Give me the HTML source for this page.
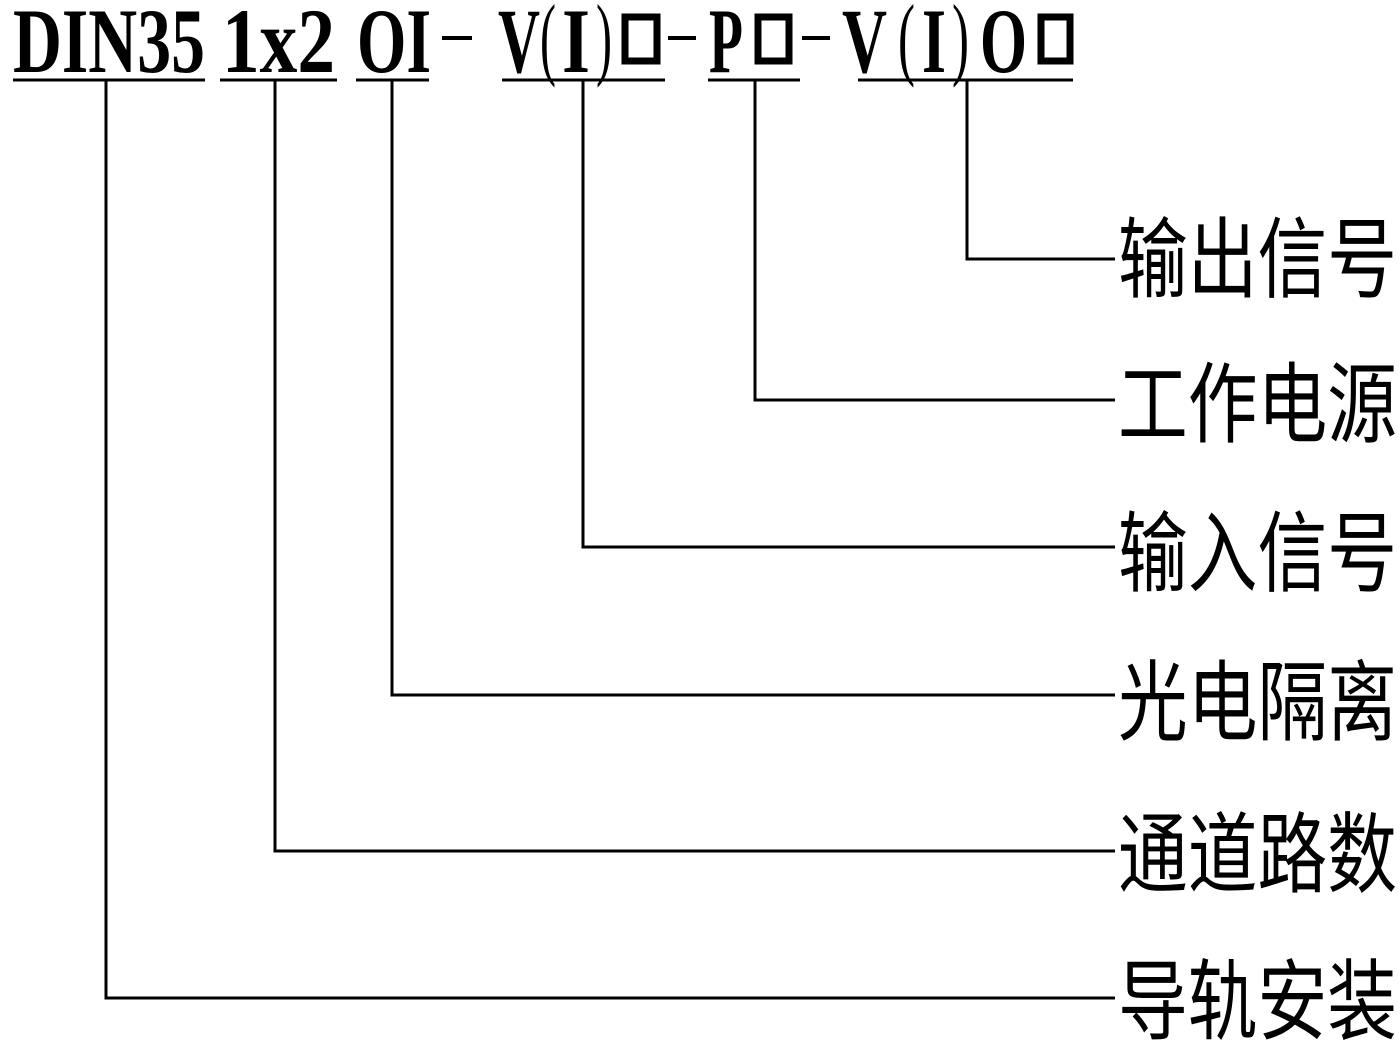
<!DOCTYPE html>
<html><head><meta charset="utf-8"><style>html,body{margin:0;padding:0;background:#fff}svg{display:block}</style></head>
<body>
<svg width="1399" height="1042" viewBox="0 0 1399 1042" xmlns="http://www.w3.org/2000/svg">
<g font-family="Liberation Serif, serif" font-weight="bold" font-size="92" fill="#000">
<text x="13" y="72" textLength="192" lengthAdjust="spacingAndGlyphs">DIN35</text>
<text x="222" y="72" textLength="113" lengthAdjust="spacingAndGlyphs">1x2</text>
<text x="357" y="72" textLength="74" lengthAdjust="spacingAndGlyphs">OI</text>
<text x="498" y="72" textLength="42" lengthAdjust="spacingAndGlyphs">V</text>
<text x="562" y="72" textLength="28" lengthAdjust="spacingAndGlyphs">I</text>
<text x="709" y="72" textLength="34" lengthAdjust="spacingAndGlyphs">P</text>
<text x="842" y="72" textLength="45" lengthAdjust="spacingAndGlyphs">V</text>
<text x="922" y="72" textLength="24" lengthAdjust="spacingAndGlyphs">I</text>
<text x="980" y="72" textLength="47" lengthAdjust="spacingAndGlyphs">O</text>
</g>
<g font-family="Liberation Serif, serif" font-size="92" fill="#000">
<text x="540" y="68" textLength="16" lengthAdjust="spacingAndGlyphs">(</text>
<text x="596" y="68" textLength="16" lengthAdjust="spacingAndGlyphs">)</text>
<text x="898" y="68" textLength="17" lengthAdjust="spacingAndGlyphs">(</text>
<text x="952" y="68" textLength="17" lengthAdjust="spacingAndGlyphs">)</text>
</g>
<g fill="none" stroke="#000" stroke-width="7">
<rect x="625" y="17" width="32" height="44"/>
<rect x="758" y="17" width="31" height="44"/>
<rect x="1041" y="17" width="29" height="44"/>
</g>
<g stroke="#000" stroke-width="4">
<line x1="442" y1="38" x2="472" y2="38"/>
<line x1="668" y1="38" x2="696" y2="38"/>
<line x1="802" y1="38" x2="830" y2="38"/>
</g>
<g stroke="#000" stroke-width="3" fill="none">
<line x1="13" y1="80" x2="205" y2="80"/>
<line x1="220" y1="80" x2="337" y2="80"/>
<line x1="356" y1="80" x2="429" y2="80"/>
<line x1="502" y1="80" x2="665" y2="80"/>
<line x1="708" y1="80" x2="800" y2="80"/>
<line x1="858" y1="80" x2="1073" y2="80"/>
<polyline points="967,80 967,259 1115,259"/>
<polyline points="755,80 755,400 1115,400"/>
<polyline points="583,80 583,547 1115,547"/>
<polyline points="392,80 392,695 1115,695"/>
<polyline points="275,80 275,851 1115,851"/>
<polyline points="106,80 106,998 1115,998"/>
</g>
<g font-family="Liberation Sans, Noto Sans CJK SC, sans-serif" font-size="88" fill="#000" dominant-baseline="central">
<text x="1118" y="260" textLength="279" lengthAdjust="spacingAndGlyphs">输出信号</text>
<text x="1118" y="405" textLength="279" lengthAdjust="spacingAndGlyphs">工作电源</text>
<text x="1118" y="554" textLength="279" lengthAdjust="spacingAndGlyphs">输入信号</text>
<text x="1118" y="703" textLength="279" lengthAdjust="spacingAndGlyphs">光电隔离</text>
<text x="1118" y="855" textLength="279" lengthAdjust="spacingAndGlyphs">通道路数</text>
<text x="1118" y="1002" textLength="279" lengthAdjust="spacingAndGlyphs">导轨安装</text>
</g>
</svg>
</body></html>
